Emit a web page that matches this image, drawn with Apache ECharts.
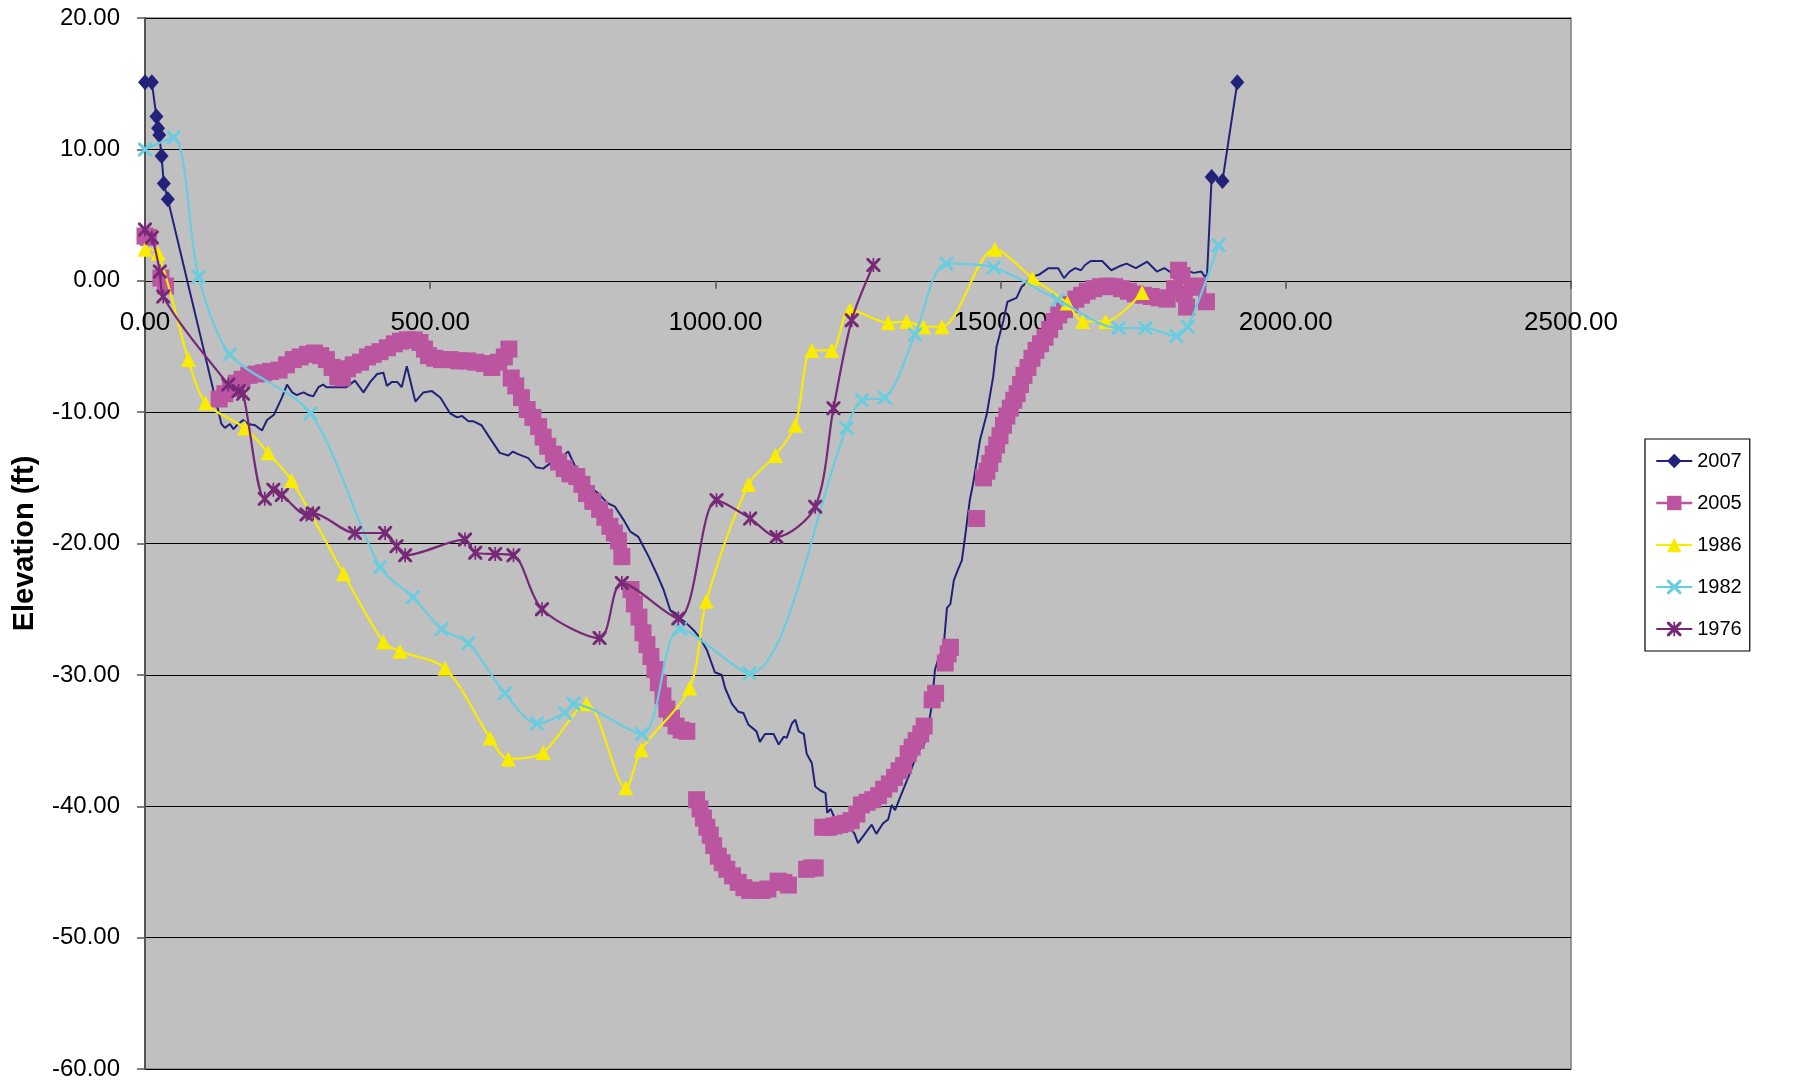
<!DOCTYPE html>
<html><head><meta charset="utf-8">
<script src="https://cdn.jsdelivr.net/npm/echarts@6/dist/echarts.min.js"></script>
<style>html,body{margin:0;padding:0;background:#fff}#c{width:1793px;height:1085px}</style>
</head><body><div id="c"></div>
<script>
// ---------- data (distance, elevation ft) ----------
const seriesNames = ['2007', '2005', '1986', '1982', '1976'];

const data2007 = [
[0,15.1],[12,15.1],[20,12.5],[23,11.6],[25,11.1],[29,9.5],[33,7.4],[40,6.2],
[134,-10.9],[140,-11.2],[149,-10.9],[155,-11.3],[161,-11.0],[172,-10.6],[181,-10.9],[193,-11.0],[205,-11.4],[214,-10.6],[226,-10.2],
[240,-8.9],[249,-7.9],[258,-8.5],[266,-8.7],[278,-8.5],[287,-8.7],[295,-8.8],[304,-8.1],[312,-7.9],[318,-8.1],[330,-8.1],[353,-8.1],
[368,-7.6],[383,-8.5],[395,-7.7],[407,-7.1],[418,-7.0],[424,-8.0],[433,-7.7],[442,-7.7],[450,-8.1],[459,-6.5],[474,-9.2],[488,-8.5],
[503,-8.4],[518,-8.9],[535,-10.1],[547,-10.4],[556,-10.3],[567,-10.7],[576,-10.7],[590,-11.0],[605,-12.0],[622,-13.1],[637,-13.3],
[645,-13.0],[654,-13.2],[672,-13.5],[686,-14.2],[698,-14.3],[710,-13.9],[725,-13.6],[742,-13.0],[755,-14.2],[765,-15.0],[774,-15.5],
[795,-16.2],[810,-16.9],[824,-17.2],[839,-18.2],[851,-19.1],[865,-19.5],[883,-21.0],[897,-22.3],[909,-23.5],[921,-25.1],[930,-25.3],
[935,-25.6],[950,-26.1],[964,-26.7],[973,-27.2],[985,-28.1],[999,-29.8],[1011,-30.0],[1017,-31.0],[1029,-32.2],[1040,-32.8],[1049,-32.9],
[1058,-33.8],[1072,-34.3],[1078,-35.1],[1087,-34.5],[1102,-34.5],[1111,-35.3],[1120,-34.7],[1125,-34.8],[1134,-33.7],[1140,-33.4],
[1146,-34.3],[1155,-34.5],[1160,-36.0],[1169,-36.7],[1175,-38.5],[1184,-38.8],[1193,-39.0],[1196,-40.5],[1202,-40.2],[1208,-40.8],
[1220,-41.2],[1235,-41.5],[1244,-42.1],[1250,-42.8],[1262,-42.1],[1274,-41.4],[1282,-42.1],[1294,-41.3],[1303,-41.0],[1309,-39.9],
[1315,-40.3],[1324,-39.3],[1340,-37.6],[1355,-35.8],[1365,-35.4],[1373,-34.0],[1379,-32.4],[1385,-29.6],[1390,-28.9],[1397,-28.2],
[1401,-27.4],[1406,-24.9],[1412,-24.6],[1418,-22.8],[1425,-22.0],[1432,-21.3],[1438,-19.4],[1446,-16.7],[1452,-15.4],[1464,-12.1],
[1476,-10.1],[1487,-7.3],[1493,-5.0],[1505,-3.0],[1512,-1.6],[1528,-1.3],[1537,-0.45],[1544,-0.2],[1554,0.3],[1567,0.45],[1584,0.96],
[1601,0.96],[1611,0.2],[1621,0.7],[1631,0.96],[1641,0.8],[1648,1.2],[1658,1.5],[1678,1.5],[1694,0.8],[1708,1.1],[1721,1.3],[1737,0.96],
[1757,1.45],[1774,0.7],[1787,0.96],[1800,0.6],[1815,0.9],[1839,0.6],[1852,0.7],[1858,0.3],[1862,0.5],
[1870,7.9],[1889,7.6],[1915,15.1]
];
const markerCount2007Start = 8;
const markerCount2007End = 3;

const data2005 = [
[0,3.4],[6,3.3],[28,0.2],[36,-0.4],
[130,-9.0],[140,-8.6],[150,-8.2],[160,-7.8],[170,-7.5],[182,-7.2],[195,-7.1],[208,-7.0],[220,-6.9],[235,-6.8],[248,-6.4],[260,-6.0],
[272,-5.8],[285,-5.6],[297,-5.5],[308,-5.7],[318,-6.0],[328,-6.6],[338,-7.3],[346,-7.4],[355,-6.7],[365,-6.4],[378,-6.2],[390,-5.8],
[400,-5.6],[412,-5.4],[425,-5.1],[437,-4.8],[448,-4.6],[460,-4.5],[472,-4.5],[482,-4.7],[490,-5.2],[497,-5.7],[508,-5.9],[520,-6.0],
[535,-6.0],[550,-6.1],[565,-6.1],[580,-6.2],[595,-6.3],[608,-6.6],[620,-6.2],[630,-5.8],[638,-5.2],[642,-7.4],[650,-8.0],[660,-8.9],
[670,-9.8],[680,-10.4],[690,-11.1],[698,-11.9],[706,-12.6],[716,-13.2],[725,-13.8],[735,-14.3],[745,-14.7],[757,-14.9],[766,-15.5],
[774,-16.2],[785,-16.8],[797,-17.4],[806,-18.0],[815,-18.7],[823,-19.2],[830,-19.8],[836,-21.0],
[852,-23.5],[858,-24.6],[866,-25.6],[873,-26.8],[880,-27.7],[887,-28.6],[894,-29.6],[900,-30.6],[908,-31.6],[915,-32.6],[923,-33.3],
[931,-33.9],[940,-34.2],[950,-34.3],
[967,-39.5],[973,-40.2],[979,-40.9],[985,-41.6],[991,-42.2],[997,-43.0],[1005,-43.8],[1012,-44.3],[1020,-44.8],[1030,-45.3],
[1040,-45.8],[1050,-46.2],[1060,-46.4],[1072,-46.4],[1082,-46.4],[1092,-46.3],[1110,-45.7],[1120,-45.8],[1128,-46.0],
[1160,-44.8],[1168,-44.7],[1175,-44.7],
[1188,-41.6],[1198,-41.6],[1208,-41.5],[1218,-41.4],[1228,-41.3],[1238,-41.1],[1248,-40.6],[1256,-39.9],[1266,-39.7],[1276,-39.5],
[1286,-39.2],[1295,-38.7],[1305,-38.3],[1314,-37.8],[1322,-37.3],[1330,-36.9],[1338,-36.0],[1345,-35.5],[1352,-35.0],[1360,-34.5],
[1366,-33.9],[1380,-31.9],[1386,-31.4],[1403,-29.1],[1408,-28.4],[1412,-27.9],
[1458,-18.1],
[1470,-15.0],[1476,-14.5],[1481,-13.9],[1487,-13.2],[1493,-12.5],[1499,-11.8],[1505,-11.0],[1511,-10.3],[1517,-9.7],[1523,-9.1],
[1529,-8.6],[1535,-7.9],[1541,-7.2],[1548,-6.6],[1555,-5.9],[1562,-5.3],[1570,-4.8],[1578,-4.3],[1586,-3.7],[1594,-3.1],[1602,-2.6],
[1612,-2.2],[1622,-1.8],[1632,-1.4],[1642,-1.1],[1652,-0.8],[1663,-0.6],[1675,-0.45],[1688,-0.4],[1700,-0.45],[1712,-0.6],[1724,-0.8],
[1736,-1.0],[1750,-1.1],[1764,-1.2],[1778,-1.3],[1792,-1.4],[1805,-0.6],[1812,0.8],[1818,0.4],[1822,-1.0],[1826,-2.0],[1836,-0.5],
[1846,-0.4],[1861,-1.6]
];

const data1986 = [
[0,2.4],[23,2.1],[76,-6.0],[106,-9.3],[175,-11.2],[216,-13.1],[257,-15.2],[348,-22.3],[418,-27.5],[447,-28.2],[526,-29.5],
[605,-34.8],[637,-36.4],[698,-35.9],[774,-32.2],[843,-38.6],[870,-35.7],[955,-31.0],[984,-24.4],[1058,-15.5],[1105,-13.3],
[1140,-11.0],[1169,-5.3],[1204,-5.3],[1236,-2.2],[1303,-3.2],[1335,-3.1],[1365,-3.5],[1397,-3.5],[1490,2.4],[1556,0.2],
[1617,-1.7],[1644,-3.1],[1684,-3.1],[1748,-0.9]
];

const data1982 = [
[0,10.0],[50,10.9],[94,0.3],[149,-5.6],[290,-10.1],[412,-21.8],[470,-24.1],[520,-26.5],[567,-27.6],[631,-31.4],[687,-33.7],
[736,-32.9],[751,-32.2],[871,-34.5],[938,-26.5],[1060,-29.9],[1230,-11.2],[1257,-9.1],[1297,-8.9],[1350,-4.1],[1405,1.3],
[1488,1.0],[1600,-1.45],[1707,-3.6],[1754,-3.6],[1808,-4.2],[1828,-3.5],[1882,2.7]
];

const data1976 = [
[0,3.9],[12,3.3],[26,0.7],[32,-1.2],[146,-7.9],[164,-8.4],[172,-8.6],[210,-16.6],[225,-15.9],[240,-16.3],[283,-17.8],[295,-17.7],
[368,-19.2],[421,-19.2],[441,-20.2],[456,-20.9],[561,-19.7],[579,-20.7],[614,-20.8],[646,-20.9],[696,-25.0],[797,-27.2],[836,-23.0],
[935,-25.7],[1002,-16.7],[1061,-18.1],[1107,-19.5],[1175,-17.2],[1207,-9.7],[1239,-3.0],[1277,1.2]
];

const xMin = 0, xMax = 2500, xStep = 500;
const yMin = -60, yMax = 20, yStep = 10;

// ---------- layout & styling ----------
const FONT = 'Liberation Sans, Arial, sans-serif';
const C2007 = '#22227A', C2005 = '#BB55A0', C1986 = '#F9EC00', C1982 = '#68CDE0', C1976 = '#772877';
const X_PATH = 'path://M0,0 L3,0 L10,7 L17,0 L20,0 L20,3 L13,10 L20,17 L20,20 L17,20 L10,13 L3,20 L0,20 L0,17 L7,10 L0,3 Z';
const STAR_PATH = 'path://M0,0 L3,0 L10,7 L17,0 L20,0 L20,3 L13,10 L20,17 L20,20 L17,20 L10,13 L3,20 L0,20 L0,17 L7,10 L0,3 Z M8.8,0 L11.2,0 L11.2,20 L8.8,20 Z';

const W = 1793, H = 1085;
const G = {left: 145, right: 222, top: 18, bottom: 16};
const plotH = H - G.top - G.bottom;
// x axis crosses the y axis at elevation 0
const xAxisOffset = -plotH * (0 - yMin) / (yMax - yMin);

const chart = echarts.init(document.getElementById('c'), null, {renderer: 'canvas'});
const n2007 = data2007.length;
chart.setOption({
  animation: false,
  backgroundColor: '#ffffff',
  grid: Object.assign({show: true, backgroundColor: '#C0C0C0', borderColor: '#808080', borderWidth: 1.5}, G),
  xAxis: {
    type: 'value', min: xMin, max: xMax, interval: xStep, position: 'bottom', offset: xAxisOffset,
    axisLine: {show: true, onZero: false, lineStyle: {color: '#000', width: 1.2}},
    axisTick: {show: true, length: 8, lineStyle: {color: '#555', width: 1.5}},
    axisLabel: {margin: 29, fontSize: 26, fontFamily: FONT, color: '#000', formatter: v => v.toFixed(2)},
    splitLine: {show: false}
  },
  yAxis: {
    type: 'value', min: yMin, max: yMax, interval: yStep,
    name: 'Elevation (ft)', nameLocation: 'middle', nameRotate: 90, nameGap: 106,
    nameTextStyle: {fontSize: 29, fontWeight: 'bold', fontFamily: FONT, color: '#000'},
    axisLine: {show: true, onZero: false, lineStyle: {color: '#555', width: 2}},
    axisTick: {show: true, length: 8, lineStyle: {color: '#555', width: 1.5}},
    axisLabel: {margin: 25, fontSize: 24, fontFamily: FONT, color: '#000', formatter: v => v.toFixed(2)},
    splitLine: {show: true, lineStyle: {color: '#000', width: 1.2}}
  },
  legend: {
    orient: 'vertical', left: 1645, top: 439,
    padding: [12, 8, 12, 10], itemGap: 22, itemWidth: 36, itemHeight: 18,
    borderColor: '#000', borderWidth: 1.2, backgroundColor: '#fff',
    textStyle: {fontSize: 20, fontFamily: FONT, color: '#000'},
    data: [
      {name: '2007'},
      {name: '2005', lineStyle: {width: 2.5, color: C2005, opacity: 1}},
      {name: '1986'}, {name: '1982'}, {name: '1976'}
    ]
  },
  series: [
    {name: seriesNames[0], type: 'line', data: data2007, symbol: 'diamond',
     symbolSize: (v, p) => (p.dataIndex < markerCount2007Start || p.dataIndex >= n2007 - markerCount2007End) ? [14, 16] : 0,
     lineStyle: {color: C2007, width: 2}, itemStyle: {color: C2007}, z: 2},
    {name: seriesNames[1], type: 'line', data: data2005, symbol: 'rect', symbolSize: 17,
     lineStyle: {color: C2005, width: 0, opacity: 0}, itemStyle: {color: C2005}, z: 3},
    {name: seriesNames[2], type: 'line', data: data1986, symbol: 'triangle', symbolSize: 15, smooth: 0.3,
     lineStyle: {color: C1986, width: 2.2}, itemStyle: {color: C1986}, z: 4},
    {name: seriesNames[3], type: 'line', data: data1982, symbol: X_PATH, symbolSize: 14, smooth: 0.3,
     lineStyle: {color: C1982, width: 2.2}, itemStyle: {color: C1982}, z: 5},
    {name: seriesNames[4], type: 'line', data: data1976, symbol: STAR_PATH, symbolSize: 14, smooth: 0.3,
     lineStyle: {color: C1976, width: 2.2}, itemStyle: {color: C1976}, z: 6}
  ]
});
</script>
</body></html>
